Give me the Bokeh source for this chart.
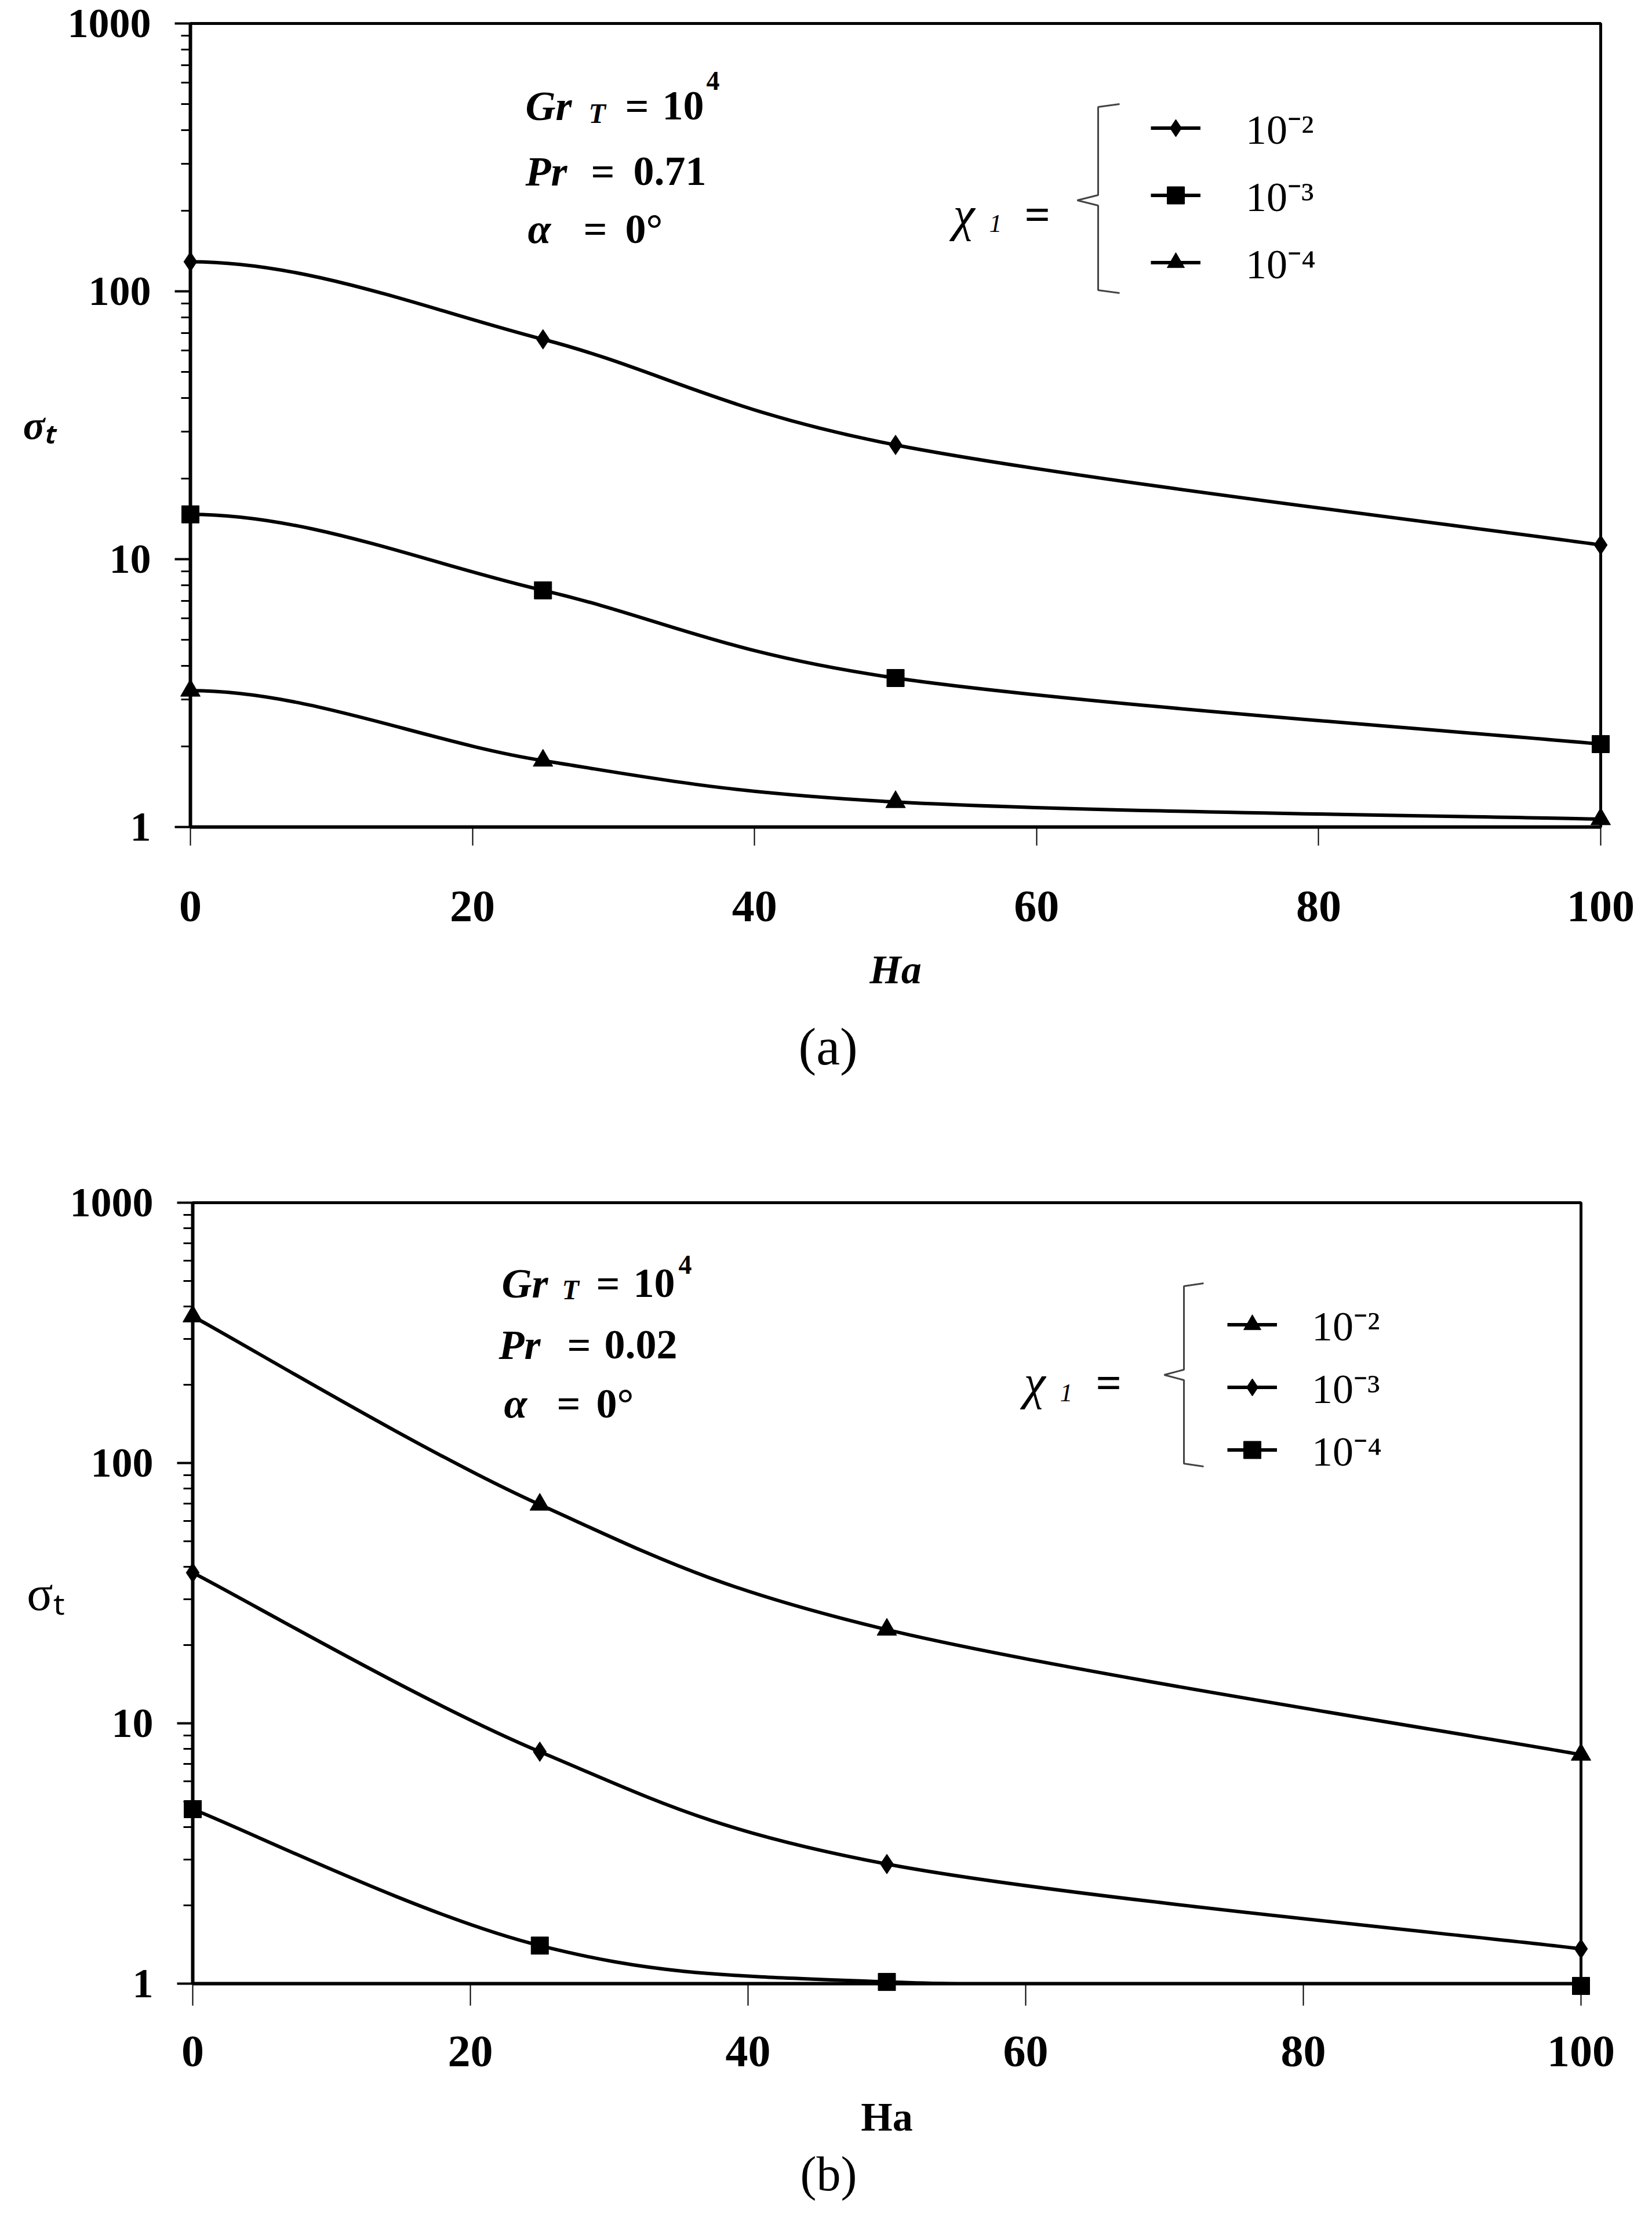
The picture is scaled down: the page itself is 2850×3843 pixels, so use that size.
import math
from bokeh.plotting import figure
from bokeh.models import (Range1d, FixedTicker, PrintfTickFormatter, Label, Legend,
                          LegendItem, Title)
from bokeh.embed import file_html
from bokeh.resources import INLINE

# ---------------- data ----------------
HA = [0, 25, 50, 100]
# panel (a): Pr = 0.71
A_CHI2 = [129.0, 66.2, 26.7, 11.3]
A_CHI3 = [14.7, 7.65, 3.6, 2.04]
A_CHI4 = [3.23, 1.77, 1.24, 1.07]
# panel (b): Pr = 0.02
B_CHI2 = [366.0, 69.2, 22.9, 7.58]
B_CHI3 = [37.9, 7.78, 2.88, 1.36]
B_CHI4 = [4.68, 1.40, 1.015, 0.98]

X_TICKS = [0, 20, 40, 60, 80, 100]
Y_TICKS = [1, 10, 100, 1000]
LEGEND_LABELS = ["10⁻²", "10⁻³", "10⁻⁴"]

SERIF = "Liberation Serif"
W = 2834


def smooth(x, y, flat_start):
    """Bezier pieces of a smoothed line through the points (log-y space)."""
    ly = [math.log10(v) for v in y]
    n = len(x)
    out = dict(x0=[], y0=[], x1=[], y1=[], cx0=[], cy0=[], cx1=[], cy1=[])
    for i in range(n - 1):
        pa = i - 1 if i > 0 else i
        pb = i + 2 if i + 2 < n else i + 1
        c0x = x[i] + (x[i + 1] - x[pa]) / 6.0
        c0y = ly[i] + (ly[i + 1] - ly[pa]) / 6.0
        if flat_start and i == 0:
            c0x = x[0] + (x[1] - x[0]) / 3.0
            c0y = ly[0]
        c1x = x[i + 1] - (x[pb] - x[i]) / 6.0
        c1y = ly[i + 1] - (ly[pb] - ly[i]) / 6.0
        out["x0"].append(x[i]); out["y0"].append(y[i])
        out["x1"].append(x[i + 1]); out["y1"].append(y[i + 1])
        out["cx0"].append(c0x); out["cy0"].append(10 ** c0y)
        out["cx1"].append(c1x); out["cy1"].append(10 ** c1y)
    return out


def build(cfg):
    L, R, T, B = cfg["frame"]
    top, H = cfg["fig_top"], cfg["fig_h"]
    dec = (B - T) / 3.0

    def hx(px):
        return (px - L) / (R - L) * 100.0

    def vy(py):
        return 10 ** ((B - py) / dec)

    p = figure(width=W, height=H, x_range=Range1d(0, 100), y_range=Range1d(1, 1000),
               y_axis_type="log", output_backend="svg", toolbar_location=None,
               min_border_left=L - 8, min_border_right=8 + W - R,
               min_border_top=T - top, min_border_bottom=top + H - B)
    p.grid.visible = False
    p.background_fill_color = "white"
    p.border_fill_color = "white"
    p.outline_line_color = "black"
    p.outline_line_width = 5

    xa = p.xaxis[0]
    xa.ticker = FixedTicker(ticks=X_TICKS)
    xa.major_label_text_font = SERIF
    xa.major_label_text_font_size = "78px"
    xa.major_label_text_font_style = "bold"
    xa.major_label_text_color = "black"
    xa.major_tick_out = cfg["xtick_out"]
    xa.major_tick_in = 0
    xa.major_tick_line_width = 2
    xa.minor_tick_line_color = None
    xa.axis_line_width = 6
    xa.major_label_standoff = cfg["xlab_standoff"]
    xa.axis_label = "Ha"
    xa.axis_label_text_font = SERIF
    xa.axis_label_text_font_size = "70px"
    xa.axis_label_text_font_style = cfg["ha_style"]
    xa.axis_label_text_color = "black"
    xa.axis_label_standoff = cfg["ha_standoff"]

    ya = p.yaxis[0]
    ya.ticker = FixedTicker(ticks=Y_TICKS,
                            minor_ticks=[m * 10 ** d for d in range(3) for m in range(2, 10)])
    ya.formatter = PrintfTickFormatter(format="%d")
    ya.major_label_text_font = SERIF
    ya.major_label_text_font_size = "72px"
    ya.major_label_text_font_style = "bold"
    ya.major_label_text_color = "black"
    ya.major_tick_out = 27
    ya.major_tick_in = 0
    ya.minor_tick_out = 16
    ya.minor_tick_in = 0
    ya.major_tick_line_width = 4
    ya.minor_tick_line_width = 3
    ya.axis_line_width = 6
    ya.major_label_standoff = 41
    ya.axis_label = "σₜ"
    ya.axis_label_orientation = "horizontal"
    ya.axis_label_text_font = SERIF
    ya.axis_label_text_font_size = cfg["sig_size"]
    ya.axis_label_text_font_style = cfg["sig_style"]
    ya.axis_label_text_color = "black"
    ya.axis_label_standoff = cfg["sig_standoff"]

    items = []
    for vals, marker, size, lab in cfg["series"]:
        seg = smooth(HA, vals, cfg["flat_start"])
        br = p.bezier(**seg, line_color="black", line_width=6)
        sr = p.scatter(HA, vals, marker=marker, size=size, color="black", level="overlay")
        items.append(LegendItem(label=lab, renderers=[br, sr]))

    lx, row1, pitch, standoff = cfg["legend"]
    gh = 75
    item_h = 98
    legend = Legend(items=items,
                    location=(lx - L, B - (row1 + 2 * pitch + item_h / 2.0)),
                    orientation="vertical", glyph_width=86, glyph_height=gh, label_height=gh,
                    spacing=int(round(pitch - item_h)), padding=0, margin=0,
                    border_line_color=None, background_fill_alpha=0,
                    label_text_font=SERIF, label_text_font_size="72px",
                    label_text_color="black", label_standoff=standoff)
    p.add_layout(legend)

    def txt(px, py, s, size, style="bold"):
        p.add_layout(Label(x=hx(px), y=vy(py), text=s, text_font=SERIF,
                           text_font_size=f"{size}px", text_font_style=style,
                           text_align="left", text_baseline="alphabetic",
                           text_color="black"))

    for args in cfg["texts"]:
        txt(*args)

    bx, by0, bmid, by1, hook, tip = cfg["brace"]
    p.line([hx(bx + hook), hx(bx), hx(bx), hx(tip), hx(bx), hx(bx), hx(bx + hook)],
           [vy(by0), vy(by0 + 5), vy(bmid - 9), vy(bmid), vy(bmid + 9), vy(by1 - 5), vy(by1)],
           line_color="#444444", line_width=3)

    cap_text, cap_left, cap_standoff, cap_size = cfg["caption"]
    p.add_layout(Title(text=cap_text, align="left", offset=cap_left - L,
                       standoff=cap_standoff, text_font=SERIF, text_font_size=cap_size,
                       text_font_style="normal", text_color="black"), "below")
    return p


cfg_a = dict(
    frame=(336, 2769, 48, 1434), fig_top=8, fig_h=1942,
    xtick_out=32, xlab_standoff=79, ha_style="bold italic", ha_standoff=42,
    sig_size="70px", sig_style="bold italic", sig_standoff=20,
    flat_start=True,
    series=[(A_CHI2, "diamond", 34, LEGEND_LABELS[0]),
            (A_CHI3, "square", 30, LEGEND_LABELS[1]),
            (A_CHI4, "triangle", 34, LEGEND_LABELS[2])],
    legend=(1993, 227, 116.5, 78),
    texts=[(914, 190, "Gr", 72, "bold italic"), (1023, 203, "T", 48, "bold italic"),
           (1086, 190, "=", 72), (1150, 190, "10", 72), (1226, 147, "4", 46),
           (914, 303, "Pr", 72, "bold italic"), (1027, 303, "=", 72), (1100, 303, "0.71", 72),
           (918, 402, "α", 72, "bold italic"), (1014, 402, "=", 72), (1086, 402, "0°", 72),
           (1652, 377, "χ", 84, "italic"), (1714, 393, "1", 44, "italic"),
           (1775, 377, "=", 78)],
    brace=(1902, 187, 353, 513, 37, 1866),
    caption=("(a)", 1385, 77, "92px"),
)

cfg_b = dict(
    frame=(340, 2735, 2082, 3429), fig_top=1950, fig_h=1884,
    xtick_out=38, xlab_standoff=53, ha_style="bold", ha_standoff=46,
    sig_size="84px", sig_style="normal", sig_standoff=6,
    flat_start=False,
    series=[(B_CHI2, "triangle", 34, LEGEND_LABELS[0]),
            (B_CHI3, "diamond", 34, LEGEND_LABELS[1]),
            (B_CHI4, "square", 30, LEGEND_LABELS[2])],
    legend=(2125, 2293, 107.5, 60),
    texts=[(873, 2221, "Gr", 72, "bold italic"), (977, 2232, "T", 48, "bold italic"),
           (1036, 2221, "=", 72), (1100, 2221, "10", 72), (1178, 2189, "4", 46),
           (868, 2327, "Pr", 72, "bold italic"), (986, 2327, "=", 72), (1050, 2327, "0.02", 72),
           (877, 2428, "α", 72, "bold italic"), (968, 2428, "=", 72), (1036, 2428, "0°", 72),
           (1774, 2392, "χ", 84, "italic"), (1836, 2410, "1", 44, "italic"),
           (1898, 2392, "=", 78)],
    brace=(2050, 2221, 2379, 2537, 34, 2016),
    caption=("(b)", 1388, 16, "84px"),
)

pa = build(cfg_a)
pb = build(cfg_b)
open("out.html", "w").write(file_html([pa, pb], INLINE))
